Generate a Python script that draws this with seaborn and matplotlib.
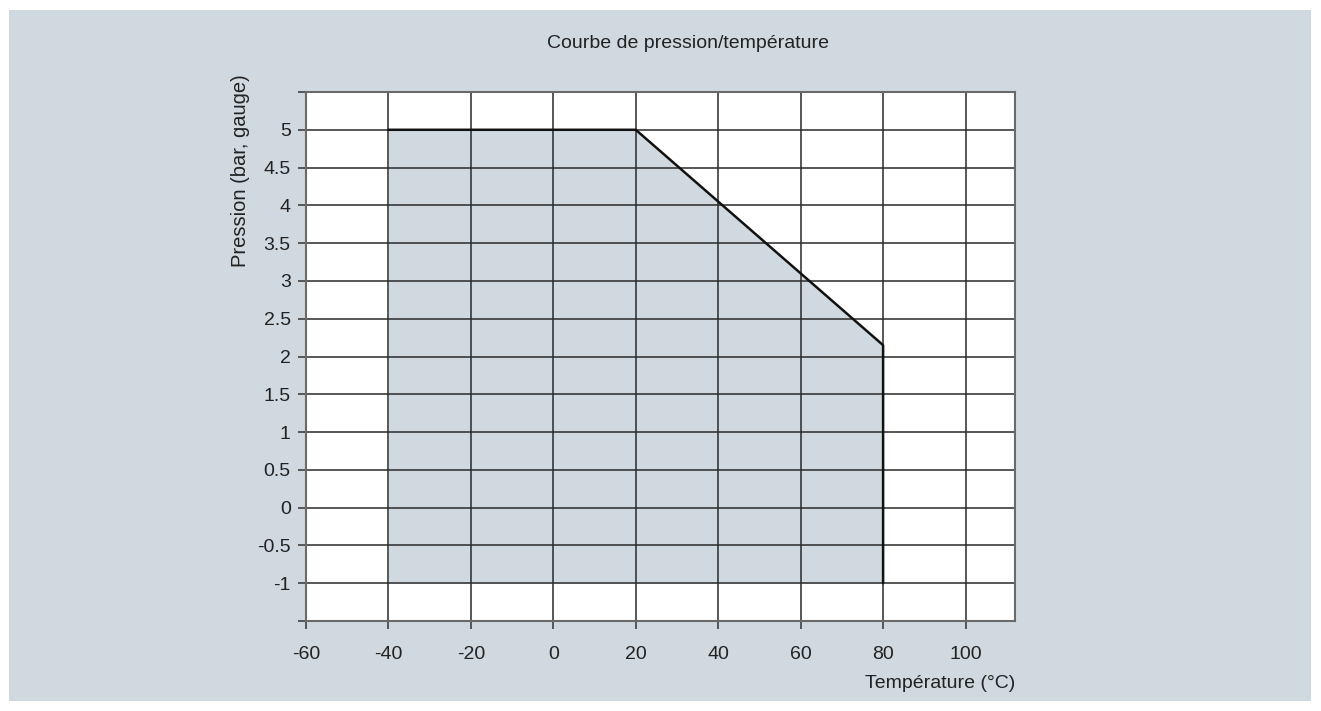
import matplotlib
matplotlib.use("Agg")
import matplotlib.pyplot as plt
import seaborn as sns
import pandas as pd
from matplotlib.patches import Rectangle

# Data
temperature = [-40, 20, 80, 80]
pressure = [5.0, 5.0, 2.15, -1.0]
x_ticks = [-60, -40, -20, 0, 20, 40, 60, 80, 100]
y_ticks = [-1.5, -1, -0.5, 0, 0.5, 1, 1.5, 2, 2.5, 3, 3.5, 4, 4.5, 5, 5.5]
y_tick_labels = ["", "-1", "-0.5", "0", "0.5", "1", "1.5", "2", "2.5", "3", "3.5", "4", "4.5", "5", ""]
title = "Courbe de pression/température"
xlabel = "Température (°C)"
ylabel = "Pression (bar, gauge)"

BG = "#d0d9e0"
TXT = "#222222"
FS = 14

sns.set_theme(style="white")
plt.rcParams['font.family'] = ['Liberation Sans', 'DejaVu Sans']

W, H = 1321, 711
fig = plt.figure(figsize=(W / 100, H / 100), dpi=100, facecolor="white")
fig.patches.append(Rectangle((9 / W, 10 / H), (1311 - 9) / W, (701 - 10) / H,
                             transform=fig.transFigure, facecolor=BG, edgecolor="none", zorder=-5))

left, right, top, bottom = 306, 1015, 92, 621
ax = fig.add_axes([left / W, 1 - bottom / H, (right - left) / W, (bottom - top) / H])
ax.set_zorder(2)
ax.set_facecolor("white")

df = pd.DataFrame({"Température": temperature, "Pression": pressure})

ax.fill_between(df["Température"], df["Pression"], -1, color=BG, linewidth=0, zorder=1)

# grid
for gx in x_ticks[1:]:
    ax.axvline(gx, color="#2a2a2a", lw=1.1, zorder=2)
for gy in y_ticks[1:-1]:
    ax.axhline(gy, color="#2a2a2a", lw=1.1, zorder=2)

sns.lineplot(data=df, x="Température", y="Pression", sort=False, estimator=None,
             color="#111111", lw=1.8, ax=ax, zorder=3)

ax.set_xlim(-60, 112)
ax.set_ylim(-1.5, 5.5)
ax.set_xticks(x_ticks)
ax.set_xticklabels([str(v) for v in x_ticks])
ax.set_yticks(y_ticks)
ax.set_yticklabels(y_tick_labels)

for s in ax.spines.values():
    s.set_color("#6a6a6a")
    s.set_linewidth(1.5)
    s.set_zorder(4)

ax.tick_params(axis="x", direction="out", length=6, width=1.1, color="#333333",
               pad=12, labelsize=FS, labelcolor=TXT, bottom=True)
ax.tick_params(axis="y", direction="out", length=6, width=1.1, color="#333333",
               pad=5, labelsize=FS, labelcolor=TXT, left=True)

ax.set_xlabel(xlabel, fontsize=FS, color=TXT, loc="right")
ax.xaxis.set_label_coords(1.0, -0.119)
ax.xaxis.label.set_va("center")
ax.set_ylabel(ylabel, fontsize=14.5, color=TXT, loc="top")
ax.yaxis.set_label_coords(-0.093, 1.034)
ax.yaxis.label.set_va("center")

fig.text(688 / W, 1 - 43 / H, title, ha="center", va="center", fontsize=FS, color=TXT)

fig.savefig("out.png", dpi=100, facecolor="white")
